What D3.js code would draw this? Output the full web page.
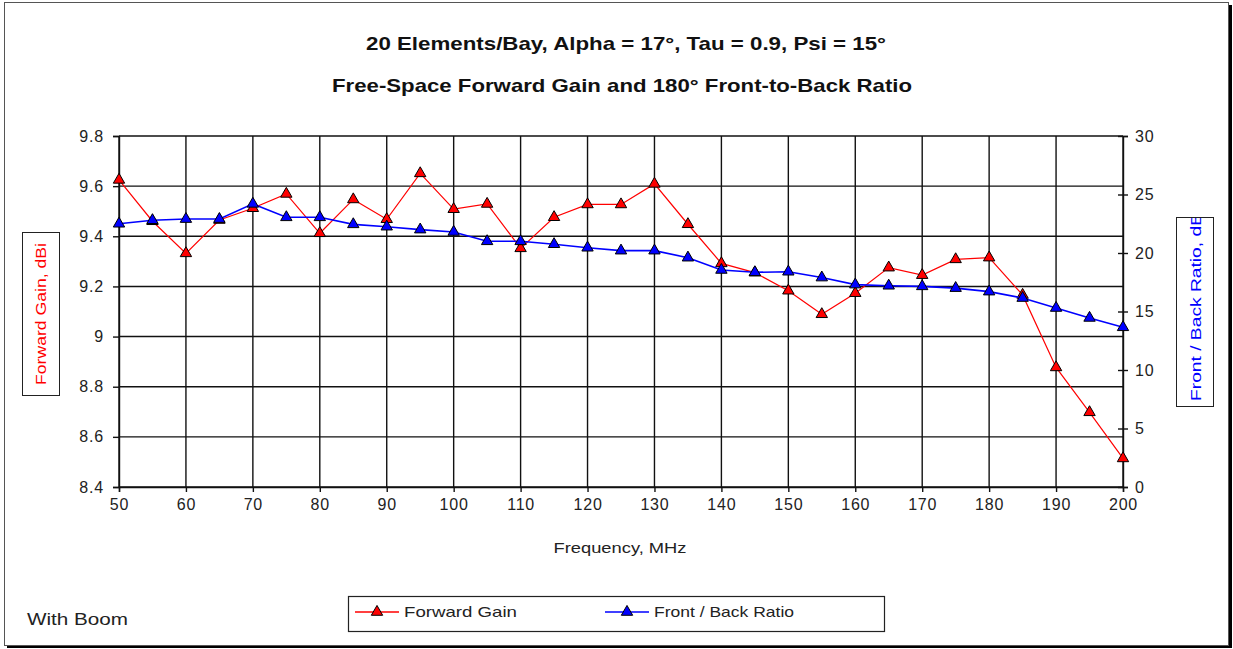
<!DOCTYPE html>
<html><head><meta charset="utf-8">
<script src="https://cdn.jsdelivr.net/npm/d3@7/dist/d3.min.js"></script>
<style>body{margin:0;background:#fff}svg{display:block}text{font-family:"Liberation Sans",Arial,sans-serif}</style>
</head><body>
<script>
const freqs = [50,55,60,65,70,75,80,85,90,95,100,105,110,115,120,125,130,135,140,145,150,155,160,165,170,175,180,185,190,195,200];
const forwardGain = [9.625,9.46,9.332,9.465,9.512,9.569,9.412,9.547,9.468,9.651,9.508,9.529,9.352,9.476,9.527,9.527,9.609,9.448,9.292,9.255,9.183,9.089,9.173,9.275,9.245,9.308,9.315,9.166,8.877,8.698,8.514];
const frontBack = [22.5,22.8,22.9,22.9,24.2,23.05,23.05,22.45,22.25,22.0,21.8,21.0,21.0,20.75,20.45,20.2,20.2,19.6,18.55,18.35,18.4,17.9,17.3,17.2,17.15,17.0,16.7,16.15,15.3,14.45,13.65];
const xTicks = [50,60,70,80,90,100,110,120,130,140,150,160,170,180,190,200];
const leftTicks = [8.4,8.6,8.8,9,9.2,9.4,9.6,9.8];
const rightTicks = [0,5,10,15,20,25,30];
const title1 = "20 Elements/Bay, Alpha = 17°, Tau = 0.9, Psi = 15°";
const title2 = "Free-Space Forward Gain and 180° Front-to-Back Ratio";

const W=1233,H=649;
const svg=d3.select("body").append("svg").attr("width",W).attr("height",H);
// outer frame with shadow
svg.append("rect").attr("x",7).attr("y",5).attr("width",1225).attr("height",643).attr("fill","#000");
svg.append("rect").attr("x",4.5).attr("y",2.5).attr("width",1224).attr("height",643).attr("fill","#fff").attr("stroke","#555").attr("stroke-width",1);

const L=119,R=1123,T=136,B=487;
const x=d3.scaleLinear().domain([50,200]).range([L,R]);
const yL=d3.scaleLinear().domain([8.4,9.8]).range([B,T]);
const yR=d3.scaleLinear().domain([0,30]).range([B,T]);

function txt(sel,len){ if(len) sel.attr("textLength",len).attr("lengthAdjust","spacingAndGlyphs"); return sel; }

// titles
txt(svg.append("text").attr("x",626).attr("y",50).attr("text-anchor","middle").attr("font-weight","bold").attr("font-size",19)
  .attr("font-family","'Liberation Sans Narrow','Arial Narrow','Liberation Sans',sans-serif").attr("fill","#111").text(title1),520);
txt(svg.append("text").attr("x",622).attr("y",92).attr("text-anchor","middle").attr("font-weight","bold").attr("font-size",19)
  .attr("font-family","'Liberation Sans Narrow','Arial Narrow','Liberation Sans',sans-serif").attr("fill","#111").text(title2),580);

// grid
const g=svg.append("g");
g.selectAll(".hg").data(leftTicks).join("line").attr("x1",L).attr("x2",R).attr("y1",d=>yL(d)).attr("y2",d=>yL(d)).attr("stroke","#111").attr("stroke-width",1.4);
g.selectAll(".vg").data(xTicks).join("line").attr("y1",T).attr("y2",B).attr("x1",d=>x(d)).attr("x2",d=>x(d)).attr("stroke","#111").attr("stroke-width",1.4);

// axes
const axB=svg.append("g").attr("transform",`translate(0,${B})`).call(d3.axisBottom(x).tickValues(xTicks).tickSize(5).tickPadding(7).tickFormat(d3.format("d")));
const axL=svg.append("g").attr("transform",`translate(${L},0)`).call(d3.axisLeft(yL).tickValues(leftTicks).tickSize(6).tickPadding(9).tickFormat(d=>d3.format("")(+d.toFixed(1))));
const axR=svg.append("g").attr("transform",`translate(${R},0)`).call(d3.axisRight(yR).tickValues(rightTicks).tickSize(5).tickPadding(7));
axR.selectAll(".tick line").attr("x1",-5);
[axB,axL,axR].forEach(a=>{a.select(".domain").attr("stroke","#111").attr("stroke-width",1.4);a.selectAll(".tick line").attr("stroke","#111").attr("stroke-width",1.4);
  a.selectAll("text").attr("font-size",16).attr("letter-spacing",0.8).attr("fill","#222").attr("font-family","Liberation Sans, Arial, sans-serif");});

// axis titles
txt(svg.append("text").attr("x",620).attr("y",553).attr("text-anchor","middle").attr("font-size",15).attr("fill","#222").text("Frequency, MHz"),133);
svg.append("rect").attr("x",22.5).attr("y",232.5).attr("width",37).attr("height",163).attr("fill","#fff").attr("stroke","#222");
txt(svg.append("text").attr("transform","translate(46,314) rotate(-90)").attr("text-anchor","middle").attr("font-size",15).attr("fill","#f00").text("Forward Gain, dBi"),142);
svg.append("rect").attr("x",1176.5).attr("y",217.5).attr("width",37).attr("height",189).attr("fill","#fff").attr("stroke","#222");
svg.append("clipPath").attr("id","rc").append("rect").attr("x",1177).attr("y",218).attr("width",36).attr("height",188);
const rg=svg.append("g").attr("clip-path","url(#rc)");
txt(rg.append("text").attr("transform","translate(1201,401) rotate(-90)").attr("text-anchor","start").attr("font-size",15).attr("fill","#00f").text("Front / Back Ratio, dB"),188);

// series
const tri=d3.symbol().type(d3.symbolTriangle).size(56);
function series(vals,scale,color,w){
  const line=d3.line().x((d,i)=>x(freqs[i])).y(d=>scale(d));
  svg.append("path").datum(vals).attr("d",line).attr("fill","none").attr("stroke",color).attr("stroke-width",w);
  svg.append("g").selectAll("path").data(vals).join("path").attr("d",tri)
    .attr("transform",(d,i)=>`translate(${x(freqs[i])},${scale(d)})`).attr("fill",color).attr("stroke","#000").attr("stroke-width",1);
}
series(forwardGain,yL,"#f00",1.2);
series(frontBack,yR,"#00f",1.6);

// legend
svg.append("rect").attr("x",348.5).attr("y",596.5).attr("width",536).attr("height",35).attr("fill","#fff").attr("stroke","#222").attr("stroke-width",1.2);
const leg=[{n:"Forward Gain",c:"#f00",x0:355,len:113},{n:"Front / Back Ratio",c:"#00f",x0:605,len:140}];
leg.forEach(o=>{
  svg.append("line").attr("x1",o.x0).attr("x2",o.x0+44).attr("y1",612).attr("y2",612).attr("stroke",o.c).attr("stroke-width",1.5);
  svg.append("path").attr("d",tri).attr("transform",`translate(${o.x0+22},612)`).attr("fill",o.c).attr("stroke","#000");
  txt(svg.append("text").attr("x",o.x0+49).attr("y",617).attr("font-size",15).attr("fill","#222").text(o.n),o.len);
});
txt(svg.append("text").attr("x",27).attr("y",625).attr("font-size",16).attr("fill","#222").text("With Boom"),101);
</script>
</body></html>
